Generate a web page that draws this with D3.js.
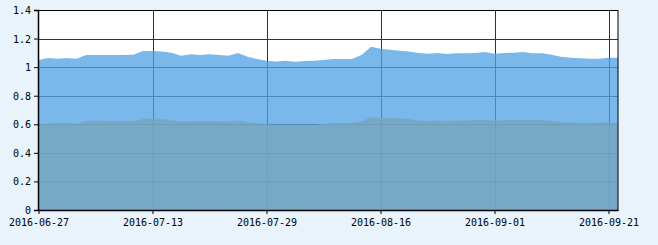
<!DOCTYPE html>
<html>
<head>
<meta charset="utf-8">
<script src="https://cdn.jsdelivr.net/npm/d3@7"></script>
<style>
  html, body { margin: 0; padding: 0; background: #e8f3fb; }
  svg text { font-family: "DejaVu Sans Mono", monospace; font-size: 10px; fill: #000; }
</style>
</head>
<body>
<div id="chart"></div>
<script>
// trading days shown on the category axis
const dates = [
  "2016-06-27","2016-06-28","2016-06-29","2016-06-30",
  "2016-07-01","2016-07-04","2016-07-05","2016-07-06","2016-07-07","2016-07-08",
  "2016-07-11","2016-07-12","2016-07-13","2016-07-14","2016-07-15",
  "2016-07-18","2016-07-19","2016-07-20","2016-07-21","2016-07-22",
  "2016-07-25","2016-07-26","2016-07-27","2016-07-28","2016-07-29",
  "2016-08-01","2016-08-02","2016-08-03","2016-08-04","2016-08-05",
  "2016-08-08","2016-08-09","2016-08-10","2016-08-11","2016-08-12",
  "2016-08-15","2016-08-16","2016-08-17","2016-08-18","2016-08-19",
  "2016-08-22","2016-08-23","2016-08-24","2016-08-25","2016-08-26",
  "2016-08-29","2016-08-30","2016-08-31",
  "2016-09-01","2016-09-02","2016-09-05","2016-09-06","2016-09-07","2016-09-08","2016-09-09",
  "2016-09-12","2016-09-13","2016-09-14","2016-09-19","2016-09-20","2016-09-21","2016-09-22"
];

const upperValues = [
  1.050,1.064,1.059,1.064,1.059,1.085,1.085,1.085,1.085,1.085,
  1.087,1.113,1.113,1.110,1.100,1.080,1.090,1.085,1.090,1.085,
  1.080,1.099,1.073,1.057,1.045,1.040,1.045,1.038,1.043,1.045,
  1.050,1.057,1.057,1.057,1.085,1.143,1.129,1.122,1.115,1.110,
  1.099,1.094,1.099,1.092,1.097,1.097,1.099,1.106,1.094,1.099,
  1.101,1.106,1.097,1.097,1.087,1.073,1.066,1.062,1.059,1.059,
  1.066,1.066
];

const lowerValues = [
  0.600,0.607,0.607,0.609,0.602,0.623,0.626,0.623,0.623,0.623,
  0.621,0.637,0.640,0.637,0.630,0.618,0.621,0.621,0.621,0.621,
  0.618,0.626,0.614,0.607,0.600,0.595,0.595,0.595,0.595,0.595,
  0.602,0.609,0.609,0.609,0.621,0.649,0.644,0.642,0.640,0.637,
  0.626,0.623,0.626,0.623,0.626,0.628,0.630,0.630,0.626,0.630,
  0.630,0.630,0.630,0.630,0.623,0.614,0.612,0.609,0.609,0.612,
  0.612,0.609
];

const yTicks = [0, 0.2, 0.4, 0.6, 0.8, 1, 1.2, 1.4];
const xTickDates = ["2016-06-27","2016-07-13","2016-07-29","2016-08-16","2016-09-01","2016-09-21"];

const width = 658, height = 245;
const margin = { top: 10, right: 40, bottom: 35, left: 38 };
const innerW = width - margin.left - margin.right;
const innerH = height - margin.top - margin.bottom;

const svg = d3.select("#chart").append("svg")
  .attr("width", width)
  .attr("height", height);

const g = svg.append("g").attr("transform", `translate(${margin.left},${margin.top})`);

const x = d3.scalePoint().domain(dates).range([0.5, innerW]);
const y = d3.scaleLinear().domain([0, 1.4]).range([innerH, 0]);

// plot background
g.append("rect")
  .attr("width", innerW)
  .attr("height", innerH)
  .attr("fill", "#fff");

// grid
g.selectAll(".hgrid")
  .data(yTicks.filter(d => d > 0))
  .join("line")
  .attr("x1", 0).attr("x2", innerW)
  .attr("y1", d => Math.round(y(d)) + 0.5)
  .attr("y2", d => Math.round(y(d)) + 0.5)
  .attr("stroke", "#333");

g.selectAll(".vgrid")
  .data(xTickDates.slice(1))
  .join("line")
  .attr("x1", d => Math.round(x(d)) + 0.5)
  .attr("x2", d => Math.round(x(d)) + 0.5)
  .attr("y1", 0).attr("y2", innerH)
  .attr("stroke", "#333");

// areas
const series = [
  { values: upperValues, fill: "#52a3e6", opacity: 0.77 },
  { values: lowerValues, fill: "#76a5bb", opacity: 0.8 }
];

series.forEach(s => {
  const area = d3.area()
    .x((d, i) => x(dates[i]))
    .y0(y(0))
    .y1(d => y(d));
  g.append("path")
    .datum(s.values)
    .attr("d", area)
    .attr("fill", s.fill)
    .attr("fill-opacity", s.opacity);
});

// border
g.append("rect")
  .attr("x", 0.5).attr("y", 0.5)
  .attr("width", innerW - 0.5)
  .attr("height", innerH)
  .attr("fill", "none")
  .attr("stroke", "#000");

// axes
const yAxis = g.append("g")
  .call(d3.axisLeft(y).tickValues(yTicks).tickSize(4).tickFormat(d => String(d)));
yAxis.select(".domain").attr("stroke", "#000").attr("stroke-width", 1.5);
yAxis.selectAll(".tick text").attr("x", -7).attr("dy", "0.35em");

const xAxis = g.append("g")
  .attr("transform", `translate(0,${innerH})`)
  .call(d3.axisBottom(x).tickValues(xTickDates).tickSize(4).tickSizeOuter(0));
xAxis.select(".domain").attr("stroke", "#000").attr("stroke-width", 1.5);
xAxis.selectAll(".tick text").attr("y", 9).attr("dy", "0.71em");

svg.selectAll(".tick text")
  .attr("font-family", "DejaVu Sans Mono, monospace")
  .attr("font-size", 10);
</script>
</body>
</html>
